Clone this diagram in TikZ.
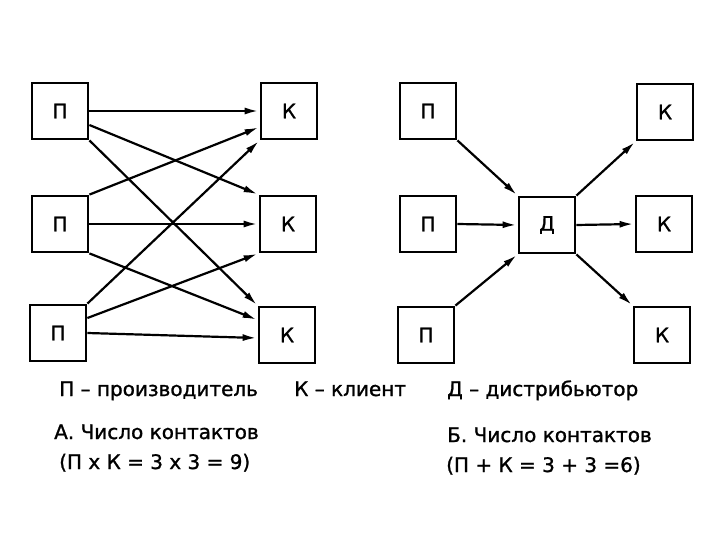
\documentclass[tikz,border=0pt]{standalone}
\usepackage{fontspec}
\setmainfont[FakeBold=1.2]{DejaVu Sans}
\usepackage{tikz}
\usetikzlibrary{positioning,calc,arrows.meta}

\begin{document}
\begin{tikzpicture}[x=1pt, y=-1pt, >={Latex[length=14pt,width=7pt]},
   box/.style={draw, line width=2.8pt, minimum width=56pt, minimum height=56pt, inner sep=0pt, font=\fontsize{20}{24}\selectfont},
   link/.style={->, line width=2.2pt, shorten >=1pt},
   lbl/.style={anchor=base west, inner sep=0pt, font=\fontsize{20}{24}\selectfont}]
   \useasboundingbox (0,0) rectangle (720,540);

   % A: producers and clients
   \node[box] (pa1) at (60,111) {П};
   \node[box] (pa2) at (60,224) {П};
   \node[box] (pa3) at (58,333) {П};
   \node[box] (ka1) at (289,111) {К};
   \node[box] (ka2) at (288,224) {К};
   \node[box] (ka3) at (287,335) {К};

   % A: every producer to every client
   \draw[link] (pa1.east) -- (ka1.west);
   \draw[link] ([yshift=-14pt]pa1.east) -- (ka2.north west);
   \draw[link] (pa1.south east) -- (ka3.north west);
   \draw[link] (pa2.north east) -- ([yshift=-16pt]ka1.west);
   \draw[link] (pa2.east) -- (ka2.west);
   \draw[link] (pa2.south east) -- ([yshift=15pt]ka3.west);
   \draw[link] (pa3.north east) -- (ka1.south west);
   \draw[link] ([yshift=15pt]pa3.east) -- (ka2.south west);
   \draw[link] (pa3.east) -- ([yshift=-3pt]ka3.west);

   % B: producers, distributor, clients
   \node[box] (pb1) at (428,111) {П};
   \node[box] (pb2) at (428,224) {П};
   \node[box] (pb3) at (426,335) {П};
   \node[box] (d) at (547,225) {Д};
   \node[box] (kb1) at (665,112) {К};
   \node[box] (kb2) at (664,224) {К};
   \node[box] (kb3) at (662,335) {К};

   % B: through the distributor
   \draw[link] (pb1.south east) -- (d.north west);
   \draw[link] (pb2.east) -- (d.west);
   \draw[link] (pb3.north east) -- (d.south west);
   \draw[link] (d.north east) -- (kb1.south west);
   \draw[link] (d.east) -- (kb2.west);
   \draw[link] (d.south east) -- (kb3.north west);

   % Legend
   \node[lbl] (lp) at (59,396) {П – производитель};
   \node[lbl] (lk) at (294,396) {К – клиент};
   \node[lbl] (ld) at (447,396) {Д – дистрибьютор};
   \node[lbl] (ta) at (54,439) {А. Число контактов};
   \node[lbl] (fa) at (59,469) {(П x К = 3 x 3 = 9)};
   \node[lbl] (tb) at (447,442) {Б. Число контактов};
   \node[lbl] (fb) at (446,472) {(П + К = 3 + 3 =6)};
\end{tikzpicture}
\end{document}
